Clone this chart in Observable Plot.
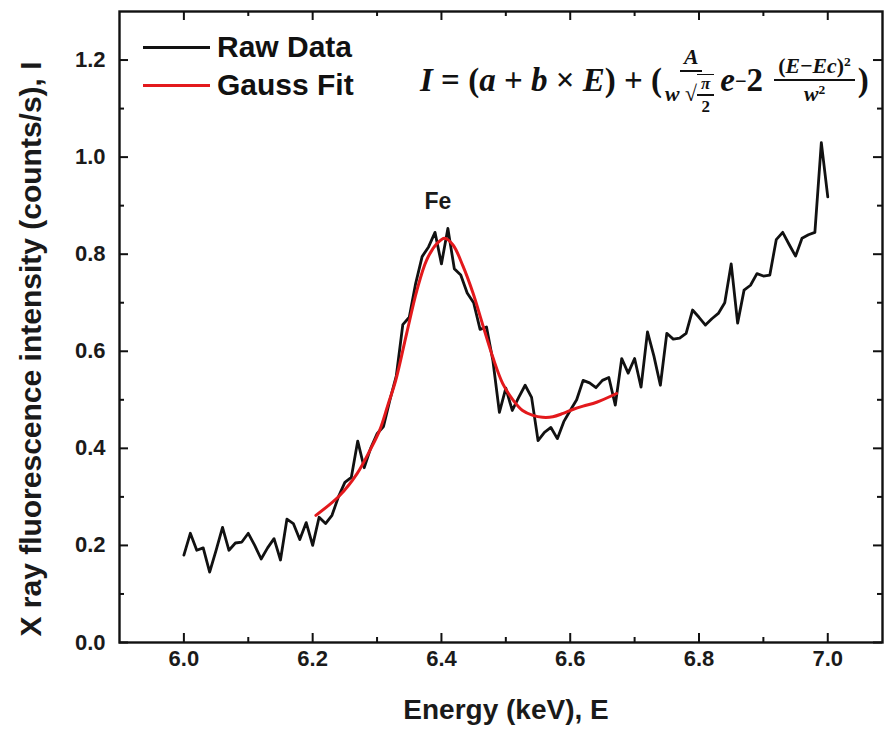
<!DOCTYPE html>
<html>
<head>
<meta charset="utf-8">
<script src="https://cdn.jsdelivr.net/npm/d3@7"></script>
<script src="https://cdn.jsdelivr.net/npm/@observablehq/plot@0.6"></script>
<style>
  html, body { margin: 0; padding: 0; background: #fff; }
  #wrap { position: relative; width: 894px; height: 740px; overflow: hidden; }
  #legend { position: absolute; left: 143px; top: 28px; font: bold 30px "Liberation Sans", Arial, sans-serif; color: #111; }
  #legend .row { display: flex; align-items: center; height: 38px; }
  #legend .sw { display: inline-block; width: 67px; height: 3px; margin-right: 7px; }
  #formula { position: absolute; left: 420px; top: 46px; font: bold 33px "Liberation Serif", "Times New Roman", serif; color: #111; white-space: nowrap; display: flex; align-items: center; }
  #formula i { font-style: italic; }
  .frac { display: inline-flex; flex-direction: column; align-items: center; font-size: 0.66em; margin: 0 3px; }
  .frac .num { border-bottom: 2px solid #111; padding: 0 4px 1px 4px; line-height: 1.05; }
  .frac .den { padding-top: 2px; line-height: 1.05; }
  .sq { display: inline-flex; align-items: center; }
  .sq .frac { font-size: 0.78em; border-top: 1.5px solid #111; margin-left: 0; }
  sup { font-size: 0.62em; vertical-align: 0.55em; line-height: 0; }
</style>
</head>
<body>
<div id="wrap">
  <div id="chart"></div>
  <div id="legend"></div>
  <div id="formula">
    <i>I</i>&nbsp;=&nbsp;(<i>a</i>&nbsp;+&nbsp;<i>b</i>&nbsp;×&nbsp;<i>E</i>)&nbsp;+&nbsp;(<span class="frac"><span class="num"><i>A</i></span><span class="den"><i>w</i>&nbsp;<span class="sq">√<span class="frac"><span class="num"><i>π</i></span><span class="den">2</span></span></span></span></span><i>e</i><sup>−</sup>2&nbsp;<span class="frac"><span class="num">(<i>E</i>−<i>Ec</i>)<sup>2</sup></span><span class="den"><i>w</i><sup>2</sup></span></span>)
  </div>
</div>
<script>
// ---- Data ----
const energyStart = 6.0;
const energyStep = 0.01;
const rawIntensity = [
  0.18, 0.225, 0.19, 0.195, 0.145, 0.19, 0.237, 0.19, 0.205, 0.207,
  0.225, 0.2, 0.172, 0.195, 0.214, 0.17, 0.254, 0.245, 0.212, 0.247,
  0.2, 0.258, 0.245, 0.262, 0.3, 0.33, 0.34, 0.415, 0.36, 0.4,
  0.43, 0.445, 0.5, 0.55, 0.655, 0.67, 0.74, 0.795, 0.815, 0.845,
  0.78, 0.853, 0.77, 0.757, 0.72, 0.7, 0.645, 0.65, 0.58, 0.474,
  0.524, 0.478, 0.505, 0.53, 0.505, 0.416, 0.433, 0.443, 0.42, 0.455,
  0.478, 0.5, 0.54, 0.535, 0.525, 0.54, 0.546, 0.489, 0.585, 0.555,
  0.585, 0.526, 0.64, 0.59, 0.53, 0.637, 0.625, 0.627, 0.637, 0.685,
  0.67, 0.654, 0.667, 0.678, 0.7, 0.78, 0.658, 0.726, 0.736, 0.76,
  0.755, 0.757, 0.83, 0.845, 0.82, 0.796, 0.833, 0.84, 0.845, 1.03,
  0.918
];
const fitEnergy = [6.205, 6.242, 6.269, 6.289, 6.304, 6.317, 6.329, 6.346, 6.362, 6.377, 6.393, 6.405, 6.418, 6.433, 6.449, 6.464, 6.48, 6.495, 6.511, 6.526, 6.542, 6.557, 6.573, 6.589, 6.604, 6.62, 6.641, 6.672];
const fitIntensity = [0.262, 0.303, 0.348, 0.396, 0.437, 0.49, 0.54, 0.637, 0.726, 0.788, 0.822, 0.833, 0.819, 0.777, 0.72, 0.655, 0.587, 0.534, 0.5, 0.478, 0.468, 0.464, 0.465, 0.472, 0.48, 0.487, 0.495, 0.513];
const seriesNames = ["Raw Data", "Gauss Fit"];
const seriesColors = ["#111111", "#e3191c"];
const xMajorTicks = [6.0, 6.2, 6.4, 6.6, 6.8, 7.0];
const xMinorTicks = [6.1, 6.3, 6.5, 6.7, 6.9];
const yMajorTicks = [0.0, 0.2, 0.4, 0.6, 0.8, 1.0, 1.2];
const yMinorTicks = [0.1, 0.3, 0.5, 0.7, 0.9, 1.1];
const peakLabel = "Fe";
const xTitle = "Energy (keV), E";
const yTitle = "X ray fluorescence intensity (counts/s), I";

// ---- Build tables ----
const raw = rawIntensity.map((v, i) => ({E: energyStart + i * energyStep, I: v}));
const fit = fitEnergy.map((e, i) => ({E: e, I: fitIntensity[i]}));
const peak = raw.filter(d => d.E < 6.6).reduce((a, b) => (b.I > a.I ? b : a));
const fmt = d3.format(".1f");

// ---- Layout ----
const W = 894, H = 740;
const mL = 119, mR = 12, mT = 11, mB = 98;
const pW = W - mL - mR, pH = H - mT - mB;
const majLen = 9, minLen = 5;
const axisStroke = "#111";
const labelFill = "#1a1a1a";

const chart = Plot.plot({
  width: W, height: H,
  marginLeft: mL, marginRight: mR, marginTop: mT, marginBottom: mB,
  x: {domain: [5.9, 7.085], axis: null},
  y: {domain: [0, 1.3], axis: null},
  style: {fontFamily: "'Liberation Sans', Arial, sans-serif", fontWeight: "bold", color: labelFill, background: "white"},
  marks: [
    Plot.tickX(xMajorTicks, {x: d => d, insetTop: pH - majLen, stroke: axisStroke, strokeWidth: 2}),
    Plot.tickX(xMajorTicks, {x: d => d, insetBottom: pH - majLen, stroke: axisStroke, strokeWidth: 2}),
    Plot.tickX(xMinorTicks, {x: d => d, insetTop: pH - minLen, stroke: axisStroke, strokeWidth: 2}),
    Plot.tickX(xMinorTicks, {x: d => d, insetBottom: pH - minLen, stroke: axisStroke, strokeWidth: 2}),
    Plot.tickY(yMajorTicks, {y: d => d, insetRight: pW - majLen, stroke: axisStroke, strokeWidth: 2}),
    Plot.tickY(yMajorTicks, {y: d => d, insetLeft: pW - majLen, stroke: axisStroke, strokeWidth: 2}),
    Plot.tickY(yMinorTicks, {y: d => d, insetRight: pW - minLen, stroke: axisStroke, strokeWidth: 2}),
    Plot.tickY(yMinorTicks, {y: d => d, insetLeft: pW - minLen, stroke: axisStroke, strokeWidth: 2}),
    Plot.frame({stroke: axisStroke, strokeWidth: 2.4}),
    // tick labels
    Plot.text(xMajorTicks, {x: d => d, text: d => fmt(d), frameAnchor: "bottom", lineAnchor: "top", dy: 8, fontSize: 22, fontWeight: "bold", fill: labelFill}),
    Plot.text(yMajorTicks, {y: d => d, text: d => fmt(d), frameAnchor: "left", textAnchor: "end", dx: -14, fontSize: 22, fontWeight: "bold", fill: labelFill}),
    // axis titles
    Plot.text([xTitle], {text: d => d, frameAnchor: "bottom", dx: 5, dy: 76, fontSize: 28, fontWeight: "bold", fill: labelFill}),
    Plot.text([yTitle], {text: d => d, frameAnchor: "left", textAnchor: "middle", dx: -88, dy: 22, rotate: -90, fontSize: 30, fontWeight: "bold", fill: labelFill}),
    // data
    Plot.line(raw, {x: "E", y: "I", stroke: seriesColors[0], strokeWidth: 2.8, strokeLinejoin: "round"}),
    Plot.line(fit, {x: "E", y: "I", stroke: seriesColors[1], strokeWidth: 3, curve: "catmull-rom"}),
    Plot.text([peak], {x: "E", y: "I", text: () => peakLabel, dx: -10, dy: -27, fontSize: 23, fontWeight: "bold", fill: labelFill})
  ]
});
document.getElementById("chart").appendChild(chart);

// ---- Legend ----
const legend = document.getElementById("legend");
seriesNames.forEach((name, i) => {
  const row = document.createElement("div");
  row.className = "row";
  const sw = document.createElement("span");
  sw.className = "sw";
  sw.style.background = seriesColors[i];
  row.appendChild(sw);
  row.appendChild(document.createTextNode(name));
  legend.appendChild(row);
});
</script>
</body>
</html>
